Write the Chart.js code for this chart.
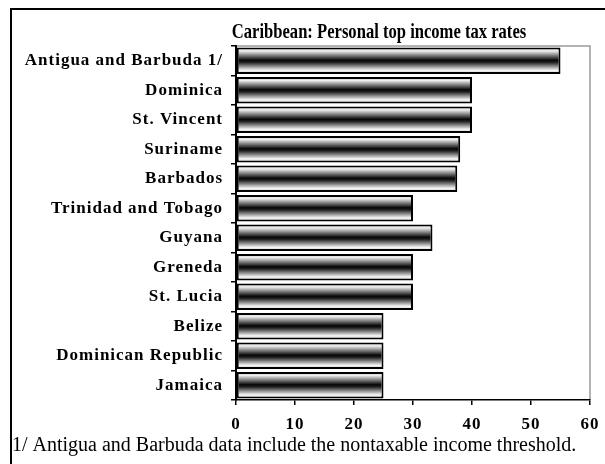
<!DOCTYPE html>
<html>
<head>
<meta charset="utf-8">
<script src="https://cdn.jsdelivr.net/npm/chart.js@4/dist/chart.umd.min.js"></script>
<style>
  html, body { margin: 0; padding: 0; background: #fff; }
  #wrap { width: 605px; height: 464px; }
</style>
</head>
<body>
<div id="wrap"><canvas id="taxChart" width="605" height="464"></canvas></div>
<script>
// countries, top to bottom
const countries = [
    "Antigua and Barbuda 1/", "Dominica", "St. Vincent", "Suriname", "Barbados",
    "Trinidad and Tobago", "Guyana", "Greneda", "St. Lucia", "Belize",
    "Dominican Republic", "Jamaica"
];
// top personal income tax rate, percent
const topRates = [55, 40, 40, 38, 37.5, 30, 33.3, 30, 30, 25, 25, 25];
const xTicks = [0, 10, 20, 30, 40, 50, 60];

const titleText = "Caribbean: Personal top income tax rates";
const noteText = "1/ Antigua and Barbuda data include the nontaxable income threshold.";

const serif = '"Liberation Serif", "Times New Roman", serif';
const barPct = 0.9;

// metallic look: light edges, dark middle
function barFill(context) {
    const chart = context.chart;
    const yScale = chart.scales.y;
    if (!chart.chartArea || !yScale) return "#555";
    const mid = yScale.getPixelForValue(context.dataIndex);
    const half = (yScale.height / countries.length) * barPct / 2;
    const g = chart.ctx.createLinearGradient(0, mid - half, 0, mid + half);
    g.addColorStop(0, "#bdbdbd");
    g.addColorStop(0.13, "#efefef");
    g.addColorStop(0.48, "#050505");
    g.addColorStop(0.56, "#202020");
    g.addColorStop(0.86, "#f6f6f6");
    g.addColorStop(1, "#c4c4c4");
    return g;
}

const framePlugin = {
    id: "frame",
    beforeDraw(chart) {
        const ctx = chart.ctx;
        const a = chart.chartArea;
        ctx.letterSpacing = "1px";
        // grey plot border (top & right)
        ctx.save();
        ctx.strokeStyle = "#9a9a9a";
        ctx.lineWidth = 1.5;
        ctx.beginPath();
        ctx.moveTo(a.left, a.top);
        ctx.lineTo(a.right, a.top);
        ctx.lineTo(a.right, a.bottom);
        ctx.stroke();
        ctx.restore();
    },
    afterDraw(chart) {
        const ctx = chart.ctx;
        ctx.save();
        ctx.letterSpacing = "0px";
        ctx.fillStyle = "#000";
        // outer frame (top and left edges visible)
        ctx.fillRect(10, 8, 595, 2);
        ctx.fillRect(10, 8, 2, 456);
        // footnote
        ctx.font = "20px " + serif;
        ctx.textAlign = "left";
        ctx.textBaseline = "alphabetic";
        ctx.fillText(noteText, 12, 451);
        // title, condensed like the original
        ctx.font = "bold 21px " + serif;
        ctx.textAlign = "center";
        ctx.translate(379, 38);
        ctx.scale(0.79, 1);
        ctx.fillText(titleText, 0, 0);
        ctx.restore();
    }
};

const ctx = document.getElementById("taxChart").getContext("2d");
new Chart(ctx, {
    type: "bar",
    data: {
        labels: countries,
        datasets: [{
            data: topRates,
            backgroundColor: barFill,
            borderColor: "#000",
            borderWidth: 2,
            borderSkipped: false,
            barPercentage: barPct,
            categoryPercentage: 1.0
        }]
    },
    options: {
        indexAxis: "y",
        responsive: false,
        animation: false,
        layout: { padding: { left: 0, top: 46, right: 15, bottom: 34 } },
        plugins: {
            legend: { display: false },
            title: { display: false },
            tooltip: { enabled: false }
        },
        scales: {
            x: {
                min: 0,
                max: 60,
                afterFit(scale) {
                    scale.height = 30;
                    scale.paddingLeft = 0;
                    scale.paddingRight = 0;
                },
                afterBuildTicks(scale) { scale.ticks = xTicks.map(v => ({ value: v })); },
                grid: { drawOnChartArea: false, tickLength: 5, color: "#000", lineWidth: 1.5 },
                border: { color: "#000", width: 1.5 },
                ticks: {
                    color: "#000",
                    padding: 9,
                    font: { family: serif, size: 17, weight: "bold" }
                }
            },
            y: {
                afterFit(scale) { scale.width = 236; },
                grid: { offset: true, drawOnChartArea: false, tickLength: 5, color: "#000", lineWidth: 1.5 },
                border: { color: "#000", width: 2 },
                ticks: {
                    color: "#000",
                    padding: 8,
                    autoSkip: false,
                    font: { family: serif, size: 17, weight: "bold" }
                }
            }
        }
    },
    plugins: [framePlugin]
});
</script>
</body>
</html>
